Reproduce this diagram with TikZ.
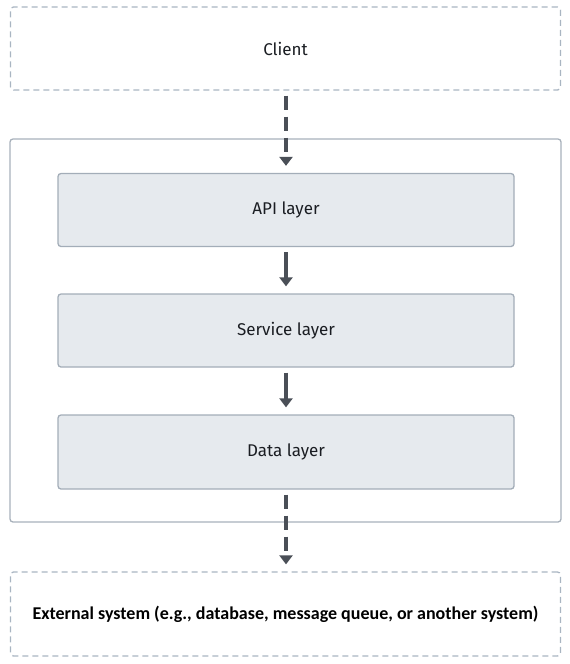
\documentclass[tikz,border=0pt]{standalone}
\usepackage{fontspec}
\setmainfont{Fira Sans}
\newfontfamily\extfont{Carlito}
\usetikzlibrary{arrows.meta}
\definecolor{dashbord}{HTML}{A9B5C2}
\definecolor{contbord}{HTML}{A8B1BB}
\definecolor{layfill}{HTML}{E6EAEE}
\definecolor{laybord}{HTML}{A3ADB8}
\definecolor{arrcol}{HTML}{4A4F57}
\definecolor{txtcol}{HTML}{1A1D22}
\tikzset{
  x=1pt, y=1pt,
  dashbox/.style={draw=dashbord, line width=1.3pt, dash pattern=on 6pt off 4pt, rounded corners=3pt, minimum width=550pt, inner sep=0pt},
  container/.style={draw=contbord, line width=1.3pt, rounded corners=3pt, minimum width=551pt, minimum height=383pt, inner sep=0pt},
  lbl/.style={text=txtcol, font=\fontsize{17}{20}\selectfont},
  layer/.style={lbl, draw=laybord, fill=layfill, line width=1.3pt, rounded corners=3pt, minimum width=456pt, minimum height=73pt, inner sep=0pt},
  flow/.style={draw=arrcol, line width=3.5pt, -{Triangle[width=13pt,length=9pt]}, shorten <=5pt, shorten >=7pt},
  dflow/.style={flow, dash pattern=on 14pt off 7pt},
}
\begin{document}
\begin{tikzpicture}
\useasboundingbox (0,0) rectangle (570,-664);
\node[dashbox, lbl, minimum height=83pt] (client) at (285.5,-48.5) {Client};
\node[container] (cont) at (285.5,-330.5) {};
\node[layer] (api) at (286,-210) {API layer};
\node[layer] (svc) at (286,-330.5) {Service layer};
\node[layer, minimum height=74pt] (data) at (286,-452) {Data layer};
\node[dashbox, minimum height=84pt, text=black, font=\extfont\bfseries\fontsize{18}{22}\selectfont] (ext) at (285.5,-614) {External system (e.g., database, message queue, or another system)};
\draw[dflow] (client.south -| api.north) -- (api.north);
\draw[flow] (api) -- (svc);
\draw[flow] (svc) -- (data);
\draw[dflow] (data) -- (ext.north -| data.south);
\end{tikzpicture}
\end{document}
